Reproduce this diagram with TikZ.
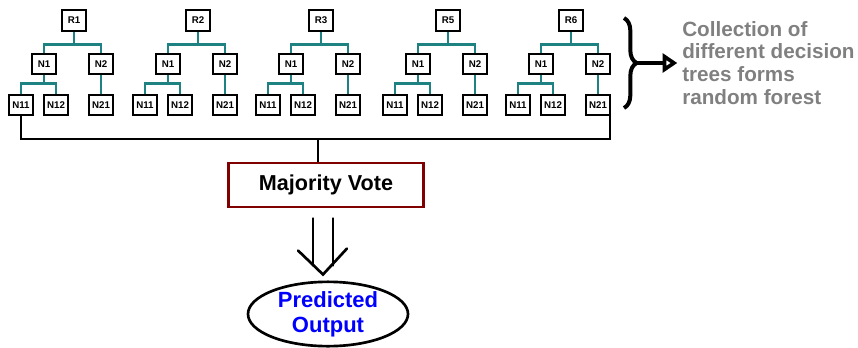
\documentclass[tikz,border=0pt]{standalone}
\usepackage{fontspec}
\setmainfont{Liberation Sans}
\usetikzlibrary{arrows.meta,decorations.pathreplacing,shapes.geometric,calc}
\definecolor{tealc}{RGB}{30,130,130}
\definecolor{mvred}{RGB}{128,0,0}
\definecolor{graytxt}{RGB}{128,128,128}
\begin{document}
\begin{tikzpicture}[x=0.75pt,y=-0.75pt,
  box/.style={draw=black,line width=1.4pt,fill=white,font=\bfseries\fontsize{7.3}{8}\selectfont,
    minimum width=18pt,minimum height=15.5pt,inner xsep=2pt,inner ysep=0pt},
  tl/.style={draw=tealc,line width=2pt},
  bus/.style={draw=black,line width=2.2pt},
  dbl/.style={draw=black,line width=2pt,line cap=round,line join=miter}]
\useasboundingbox (0,0) rectangle (858,347);
\foreach \x/\r/\n in {74/R1/a,198/R2/b,321/R3/c,448/R5/d,571/R6/e}{
  \node[box] (r\n) at (\x,20.5) {\r};
  \node[box] (p\n) at (\x-30,64) {N1};
  \node[box] (q\n) at (\x+27,64) {N2};
  \node[box] (s\n) at (\x-53,105) {N11};
  \node[box] (t\n) at (\x-18,105) {N12};
  \node[box] (u\n) at (\x+27,105) {N21};
  \draw[tl] (r\n.south) |- ([yshift=6pt]p\n.north) -- (p\n.north);
  \draw[tl] (r\n.south) |- ([yshift=6pt]q\n.north) -- (q\n.north);
  \draw[tl] (p\n.south) |- ([yshift=7.5pt]s\n.north) -- (s\n.north);
  \draw[tl] (p\n.south) |- ([yshift=7.5pt]t\n.north) -- (t\n.north);
  \draw[tl] (q\n.south) -- (u\n.north);
}
% majority vote
\node[draw=mvred,line width=2.2pt,minimum width=146pt,minimum height=33pt,
  font=\bfseries\fontsize{16.2}{19}\selectfont] (mv) at (326,185) {Majority Vote};
% bus
\coordinate (bc) at (318,139);
\coordinate (br) at (610,139);
\draw[bus] (sa.south) |- (br) -- (br |- ue.south);
\draw[bus] (bc) -- (bc |- mv.north);
% predicted output
\node[ellipse,draw=black,line width=2pt,minimum width=120pt,minimum height=46pt,inner sep=0pt,
  align=center,text=blue,font=\bfseries\fontsize{16.5}{18.75}\selectfont] (po) at (328,314) {Predicted\\Output};
% double arrow
\coordinate (ds) at ($(mv.south)+(-3,10)$);
\coordinate (dt) at ($(ds |- po.north)+(0,-6)$);
\draw[dbl] ($(ds)+(-10,0)$) -- ($(dt)+(-10,-9)$);
\draw[dbl] ($(ds)+(10,0)$) -- ($(dt)+(10,-9)$);
\draw[dbl] ($(dt)+(-25,-24)$) -- (dt) -- ($(dt)+(24,-26)$);
% brace + text
\node[anchor=north west,inner sep=0pt,align=left,text=graytxt,
  font=\bfseries\fontsize{15.5}{17}\selectfont] (txt) at (682,21)
  {Collection of\\different decision\\trees forms\\random forest};
\coordinate (bt) at (624,18);
\coordinate (bb) at (624,108);
\coordinate (btip) at (637,63);
\draw[decorate,decoration={brace,amplitude=9.5pt},line width=3pt] (bt) -- (bb);
\draw[line width=2.8pt,-{Triangle[open,length=11pt,width=14pt]}] (btip) -- ([xshift=-3.5pt]txt.west |- btip);
\end{tikzpicture}
\end{document}
